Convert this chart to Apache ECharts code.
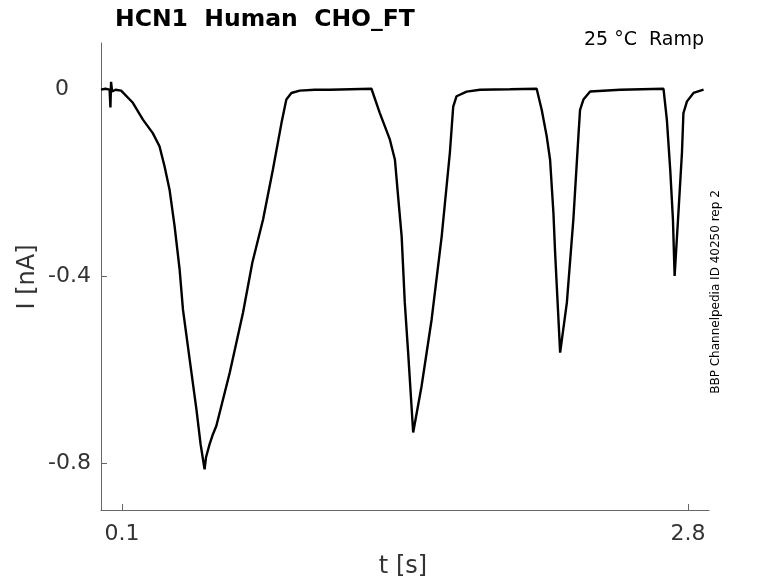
<!DOCTYPE html>
<html>
<head>
<meta charset="utf-8">
<script src="https://cdn.jsdelivr.net/npm/echarts@6/dist/echarts.min.js"></script>
<style>
html,body{margin:0;padding:0;background:#fff;}
#chart{width:778px;height:583px;}
</style>
</head>
<body>
<div id="chart"></div>
<script>
// Time (s) and current (nA)
var timeValues = [
  0, 0.021, 0.041, 0.045, 0.048, 0.053, 0.069, 0.096, 0.152, 0.2, 0.247, 0.279, 0.303, 0.327, 0.351, 0.375,
  0.391, 0.423, 0.455, 0.475, 0.494, 0.501, 0.51, 0.518, 0.532, 0.55, 0.614, 0.677, 0.722, 0.773, 0.82,
  0.861, 0.884, 0.908, 0.948, 1.02, 1.091, 1.19, 1.29,
  1.33, 1.378, 1.402, 1.417, 1.434, 1.449, 1.465, 1.489, 1.529, 1.577, 1.625, 1.664, 1.68, 1.696, 1.744,
  1.808, 1.95, 2.078,
  2.102, 2.126, 2.142, 2.158, 2.166, 2.174, 2.19, 2.222, 2.253, 2.277, 2.285, 2.301, 2.333, 2.476, 2.683,
  2.699, 2.715, 2.728, 2.736, 2.755, 2.771, 2.778, 2.795, 2.826, 2.874
];
var currentValues = [
  0, 0.002, 0, -0.038, 0.017, -0.004, 0, -0.002, -0.028, -0.064, -0.093, -0.121, -0.164, -0.214, -0.292, -0.385,
  -0.471, -0.578, -0.684, -0.759, -0.813, -0.787, -0.784, -0.759, -0.74, -0.72, -0.606, -0.478, -0.37, -0.278, -0.171,
  -0.071, -0.021, -0.007, -0.002, 0, 0, 0.001, 0.002,
  -0.05, -0.107, -0.15, -0.228, -0.314, -0.456, -0.563, -0.734, -0.635, -0.492, -0.314, -0.135, -0.036, -0.014, -0.004,
  0, 0.001, 0.002,
  -0.043, -0.1, -0.15, -0.264, -0.349, -0.421, -0.563, -0.456, -0.278, -0.1, -0.043, -0.021, -0.004, 0, 0.002,
  -0.064, -0.171, -0.278, -0.399, -0.257, -0.135, -0.05, -0.025, -0.007, 0
];
var xTickValues = [0.1, 2.8];
var yTickValues = [-0.8, -0.4, 0];
var titleText = 'HCN1  Human  CHO_FT';
var subtitleText = '25 °C  Ramp';
var sideText = 'BBP Channelpedia ID 40250 rep 2';
var xName = 't [s]';
var yName = 'I [nA]';

var seriesData = timeValues.map(function (t, i) { return [t, currentValues[i]]; });
var font = 'DejaVu Sans';
var chart = echarts.init(document.getElementById('chart'), null, {renderer: 'canvas'});
chart.setOption({
  animation: false,
  backgroundColor: '#fff',
  grid: {left: 101, right: 69, top: 43, bottom: 73, containLabel: false, outerBoundsMode: 'none'},
  xAxis: {
    type: 'value', min: 0, max: 2.9,
    axisLine: {show: true, onZero: false, lineStyle: {color: '#666', width: 1}},
    axisTick: {show: true, inside: true, length: 6, customValues: xTickValues, lineStyle: {color: '#666'}},
    axisLabel: {customValues: xTickValues, margin: 13, color: '#333', fontFamily: font, fontSize: 22,
      formatter: function (v) { return v.toFixed(1); }},
    splitLine: {show: false}
  },
  yAxis: {
    type: 'value', min: -0.9, max: 0.1,
    axisLine: {show: true, onZero: false, lineStyle: {color: '#666', width: 1}},
    axisTick: {show: true, inside: true, length: 6, customValues: yTickValues, lineStyle: {color: '#666'}},
    axisLabel: {customValues: yTickValues, margin: 10, color: '#333', fontFamily: font, fontSize: 22,
      formatter: function (v) { return v === 0 ? '{z|0}' : String(v); },
      rich: {z: {fontFamily: font, fontSize: 22, color: '#333', padding: [0, 22, 0, 0]}}},
    splitLine: {show: false}
  },
  series: [{
    type: 'line', data: seriesData, showSymbol: false, symbol: 'none',
    lineStyle: {color: '#000', width: 2.4}, clip: true
  }],
  graphic: [
    {type: 'text', left: 115, top: 8, style: {text: titleText, font: 'bold 23.5px "DejaVu Sans"', fill: '#000'}},
    {type: 'text', right: 74, top: 31, style: {text: subtitleText, font: '19px "DejaVu Sans"', fill: '#000'}},
    {type: 'text', x: 403, y: 567, style: {text: xName, font: '24px "DejaVu Sans"', fill: '#333', align: 'center', verticalAlign: 'middle'}},
    {type: 'text', x: 28, y: 277, rotation: Math.PI / 2, style: {text: yName, font: '24px "DejaVu Sans"', fill: '#333', align: 'center', verticalAlign: 'middle'}},
    {type: 'text', x: 716, y: 292, rotation: Math.PI / 2, style: {text: sideText, font: '12px "DejaVu Sans"', fill: '#000', align: 'center', verticalAlign: 'middle'}}
  ]
});
</script>
</body>
</html>
